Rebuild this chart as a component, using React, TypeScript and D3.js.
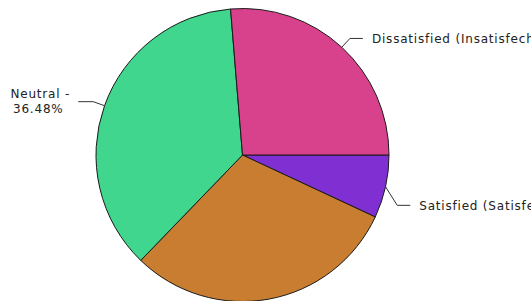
import React from "react";
import * as d3 from "d3";

// slices, clockwise from 3 o'clock
const categories = [
  "Satisfied (Satisfecho)",
  "Very Satisfied (Muy Satisfecho)",
  "Neutral",
  "Dissatisfied (Insatisfecho)",
];
const values = [6.95, 30.27, 36.48, 26.3];
const colors = ["#7f2fd2", "#c97d30", "#41d68d", "#d8418c"];

const W = 531;
const H = 301;
const cx = 242.5;
const cy = 155;
const r = 146.5;

// small vertical nudge for label elbows (library-style label spreading)
const elbowNudge: Record<string, number> = { "Satisfied (Satisfecho)": 16 };

const font = {
  fontFamily: "DejaVu Sans, Verdana, sans-serif",
  fontSize: 12,
  letterSpacing: 0.8,
  fill: "#222",
};

const App = () => {
  const data = categories.map((c, i) => ({ name: c, value: values[i], color: colors[i] }));

  const pie = d3
    .pie<any>()
    .sort(null)
    .value((d) => d.value)
    .startAngle(Math.PI / 2)
    .endAngle(Math.PI / 2 + 2 * Math.PI);

  const arcs = pie(data);
  const arc = d3.arc<any>().innerRadius(0).outerRadius(r);

  const polar = (a: number, rad: number) => [Math.sin(a) * rad, -Math.cos(a) * rad];

  return (
    <svg width={W} height={H} style={{ position: "absolute", left: 0, top: 0 }}>
      <rect width={W} height={H} fill="#fff" />
      <g transform={`translate(${cx},${cy})`}>
        {arcs.map((a, i) => (
          <path key={i} d={arc(a) as string} fill={a.data.color} stroke="#1a1a1a" strokeWidth={1} />
        ))}
        {arcs.map((a, i) => {
          const mid = (a.startAngle + a.endAngle) / 2;
          const [x0, y0] = polar(mid, r);
          let [x1, y1] = polar(mid, r + 12);
          y1 += elbowNudge[a.data.name] || 0;
          if (y1 > r + 5) return null; // label falls below the visible area
          const right = Math.sin(mid) >= 0;
          const x2 = x1 + (right ? 13 : -15);
          const pct = a.data.value.toFixed(2) + "%";
          return (
            <g key={"l" + i}>
              <polyline
                points={`${x0},${y0} ${x1},${y1} ${x2},${y1}`}
                fill="none"
                stroke="#333"
                strokeWidth={1}
              />
              {right ? (
                <text x={x2 + 9} y={y1} dy="0.35em" {...font}>
                  {`${a.data.name} - ${pct}`}
                </text>
              ) : (
                <text x={x2 - 38} y={y1} textAnchor="middle" {...font}>
                  <tspan x={x2 - 38} dy="-0.3em">{`${a.data.name} -`}</tspan>
                  <tspan x={x2 - 40} dy="1.25em">{pct}</tspan>
                </text>
              )}
            </g>
          );
        })}
      </g>
    </svg>
  );
};

export default App;
